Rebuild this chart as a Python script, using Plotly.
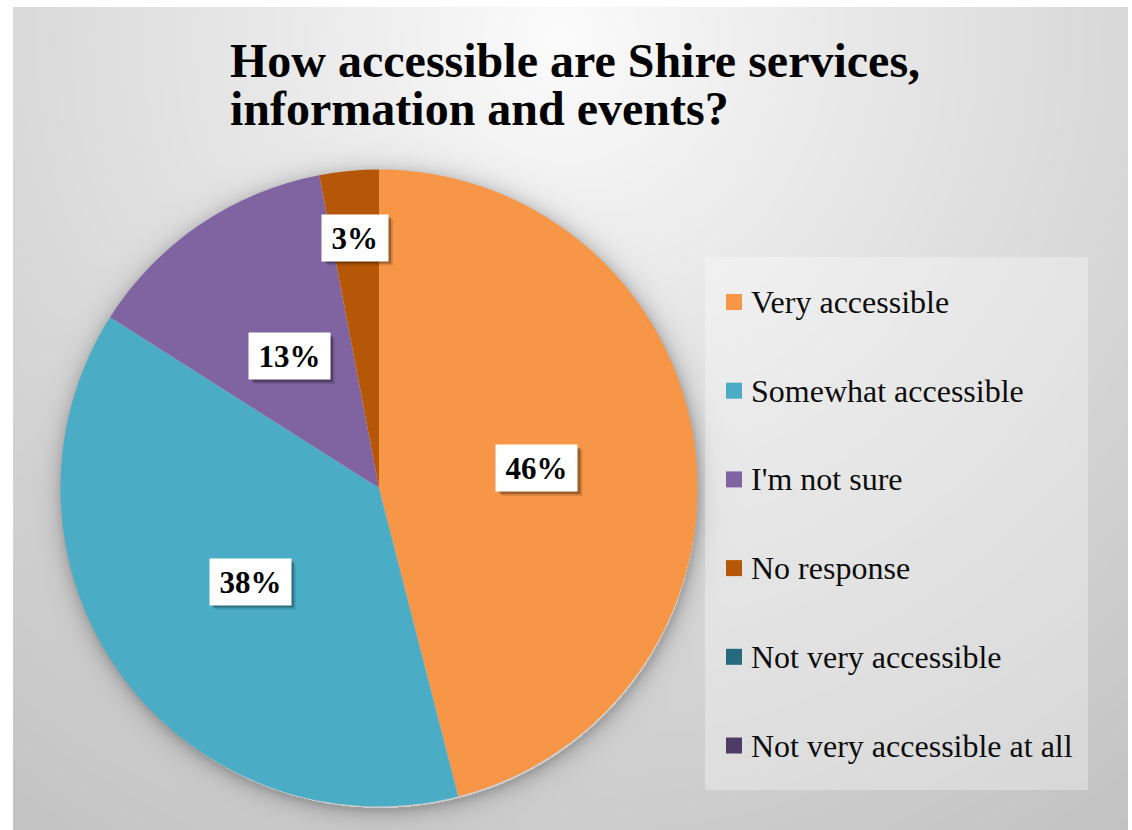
import base64
import math
import struct
import zlib

import numpy as np
import plotly.graph_objects as go

# ---- data -------------------------------------------------------------
categories = [
    "Very accessible",
    "Somewhat accessible",
    "I'm not sure",
    "No response",
    "Not very accessible",
    "Not very accessible at all",
]
percentages = [46, 38, 13, 3, 0, 0]
colours = ["#F79646", "#4BACC6", "#8064A2", "#B65708", "#266B7D", "#4E3C66"]
title_lines = ["How accessible are Shire services,", "information and events?"]

# ---- geometry / style -------------------------------------------------
W, H = 1132, 830
PIE_CX, PIE_CY, PIE_R = 379.0, 488.0, 318.5
CARD = (13, 7, 1128, 830)  # chart-area card (left, top, right, bottom) in px
LABEL_RADIUS = [0.5, 0.5, 0.5, 0.79, 0.5, 0.5]
SERIF = "Liberation Serif"
LABEL_SIZE = 31
LABEL_PAD = 5
LABEL_BOX_H = 46


def px(x):
    return x / W


def py(y):
    return 1 - y / H


def png_gray(arr):
    """Encode a 2-D uint8 array as a grayscale PNG (Up filter)."""
    h, w = arr.shape
    prev = np.vstack([np.zeros((1, w), np.uint8), arr[:-1]])
    diff = (arr.astype(np.int16) - prev.astype(np.int16)) % 256
    raw = np.hstack([np.full((h, 1), 2, np.uint8), diff.astype(np.uint8)])
    comp = zlib.compress(raw.tobytes(), 9)

    def chunk(tag, data):
        c = struct.pack(">I", len(data)) + tag + data
        return c + struct.pack(">I", zlib.crc32(tag + data) & 0xFFFFFFFF)

    ihdr = struct.pack(">IIBBBBB", w, h, 8, 0, 0, 0, 0)
    return b"\x89PNG\r\n\x1a\n" + chunk(b"IHDR", ihdr) + chunk(b"IDAT", comp) + chunk(b"IEND", b"")


# radial-gradient card background with the soft shadow round the pie
cl, ct, cr, cb = CARD
yy, xx = np.mgrid[ct:cb, cl:cr].astype(float)
d = np.hypot(xx - 560, yy - 40)
shade = 252 - 58 * np.clip(d / 980, 0, 1) ** 0.9
dp = np.hypot(xx - (PIE_CX + 1), yy - (PIE_CY + 3))
outside = np.clip(dp - PIE_R, 0, None)
shadow = np.where(dp > PIE_R - 2, 0.22 * np.exp(-outside / 9.0), 0)
shade = shade * (1 - shadow)
bg_png = png_gray(np.clip(shade, 0, 255).astype(np.uint8))
bg_uri = "data:image/png;base64," + base64.b64encode(bg_png).decode()

fig = go.Figure()
fig.add_trace(
    go.Pie(
        labels=categories,
        values=percentages,
        marker=dict(colors=colours, line=dict(width=0)),
        sort=False,
        direction="clockwise",
        rotation=0,
        textinfo="none",
        showlegend=False,
        hovertemplate="%{label}: %{value}%<extra></extra>",
        domain=dict(
            x=[px(PIE_CX - PIE_R), px(PIE_CX + PIE_R)],
            y=[py(PIE_CY + PIE_R), py(PIE_CY - PIE_R)],
        ),
    )
)

annotations = []
shapes = []

# value labels: white boxes with a drop shadow, placed on each slice's mid-angle
total = sum(percentages)
cum = 0
for val, frac in zip(percentages, LABEL_RADIUS):
    mid = (cum + val / 2) / total * 2 * math.pi
    cum += val
    if val <= 0:
        continue
    lx = PIE_CX + PIE_R * frac * math.sin(mid)
    ly = PIE_CY - PIE_R * frac * math.cos(mid)
    txt = f"{val}%"
    text_w = LABEL_SIZE * (0.5 * len(str(val)) + 1.0) + 9
    half_w = text_w / 2 + LABEL_PAD
    half_h = LABEL_BOX_H / 2
    for off, alpha in ((5, 0.12), (3, 0.28)):
        shapes.append(dict(
            type="rect", xref="paper", yref="paper",
            x0=px(lx - half_w + off), x1=px(lx + half_w + off),
            y0=py(ly + half_h + off), y1=py(ly - half_h + off),
            fillcolor=f"rgba(0,0,0,{alpha})", line=dict(width=0),
        ))
    annotations.append(dict(
        x=px(lx), y=py(ly), xref="paper", yref="paper",
        xanchor="center", yanchor="middle", showarrow=False,
        text=f"<b>{txt}</b>", width=text_w, height=LABEL_BOX_H - 2 * LABEL_PAD,
        borderpad=LABEL_PAD, valign="middle",
        font=dict(family=SERIF, size=LABEL_SIZE, color="#000000"),
        bgcolor="#FFFFFF",
    ))

# title
for i, line in enumerate(title_lines):
    annotations.append(dict(
        x=px(228), y=py(60 + 49 * i), xref="paper", yref="paper",
        xanchor="left", yanchor="middle", showarrow=False,
        text=f"<b>{line}</b>",
        font=dict(family=SERIF, size=48, color="#000000"),
    ))

# legend panel
shapes.append(dict(
    type="rect", xref="paper", yref="paper",
    x0=px(705), x1=px(1088), y0=py(790), y1=py(257),
    fillcolor="rgba(255,255,255,0.32)", line=dict(width=0), layer="below",
))
for i, (name, col) in enumerate(zip(categories, colours)):
    cy = 302 + 88.7 * i
    shapes.append(dict(
        type="rect", xref="paper", yref="paper",
        x0=px(726), x1=px(742), y0=py(cy + 8), y1=py(cy - 8),
        fillcolor=col, line=dict(width=0),
    ))
    annotations.append(dict(
        x=px(749), y=py(cy), xref="paper", yref="paper",
        xanchor="left", yanchor="middle", showarrow=False,
        text=name, font=dict(family=SERIF, size=32, color="#0D0D0D"),
    ))

fig.update_layout(
    width=W, height=H,
    margin=dict(l=0, r=0, t=0, b=0),
    paper_bgcolor="#FFFFFF",
    plot_bgcolor="#FFFFFF",
    showlegend=False,
    images=[dict(
        source=bg_uri, xref="paper", yref="paper",
        x=px(cl), y=py(ct), sizex=(cr - cl) / W, sizey=(cb - ct) / H,
        xanchor="left", yanchor="top", sizing="stretch", layer="below",
    )],
    shapes=shapes,
    annotations=annotations,
)

fig.write_html("out.html")
